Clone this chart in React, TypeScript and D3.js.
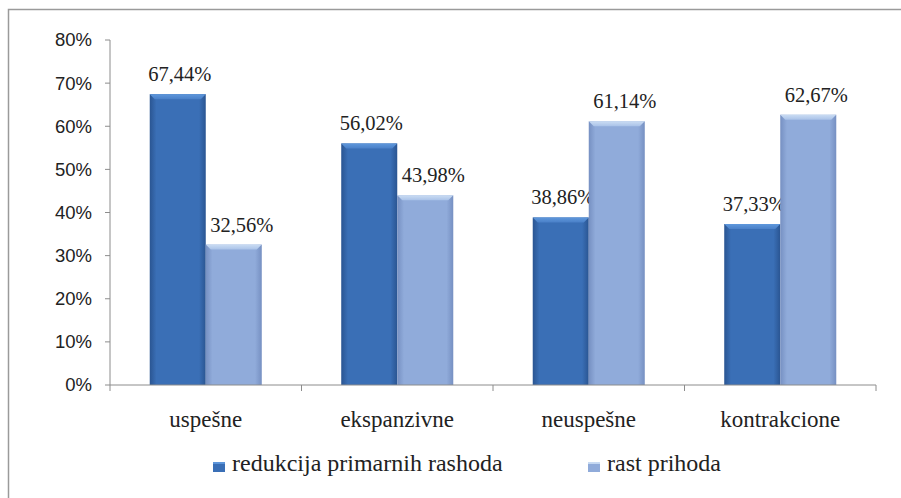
import React from 'react';
import * as d3 from 'd3';

const categories = ['uspešne', 'ekspanzivne', 'neuspešne', 'kontrakcione'];
const seriesNames = ['redukcija primarnih rashoda', 'rast prihoda'];
const reduction = [67.44, 56.02, 38.86, 37.33];
const revenue = [32.56, 43.98, 61.14, 62.67];
const yTicks = [0, 10, 20, 30, 40, 50, 60, 70, 80];

const W = 901;
const H = 498;
const left = 110;
const right = 876;
const top = 40;
const bottom = 385;

const serif = "'Liberation Serif'";
const sans = "'Liberation Sans'";

const seriesColors = [
  { edge: '#2a5592', mid: '#3a6fb6', cap: '#5f98dc', capEdge: '#4a80c8' },
  { edge: '#7690c2', mid: '#90abda', cap: '#cadcf3', capEdge: '#a9c2e8' },
];
// labels sit a little right of the bar centre in the original
const labelShift = [2, 8];

const fmt = (v: number) => v.toFixed(2).replace('.', ',') + '%';

const App = () => {
  const x0 = d3.scaleBand().domain(categories).range([left, right]).padding(0);
  const groupW = x0.bandwidth() * 0.585;
  const x1 = d3
    .scaleBand()
    .domain(seriesNames)
    .range([(x0.bandwidth() - groupW) / 2, (x0.bandwidth() + groupW) / 2])
    .padding(0);
  const y = d3.scaleLinear().domain([0, 80]).range([bottom, top]);
  const values = [reduction, revenue];

  const bars = categories.flatMap((c, ci) =>
    seriesNames.map((s, si) => ({ c, s, si, v: values[si][ci] }))
  );

  const cap = 5;

  return (
    <svg
      width={W}
      height={H}
      style={{ position: 'absolute', left: 0, top: 0, background: '#fff' }}
    >
      <defs>
        {seriesColors.map((col, i) => (
          <linearGradient key={i} id={`bar${i}`} x1="0" x2="1" y1="0" y2="0">
            <stop offset="0" stopColor={col.edge} />
            <stop offset="0.12" stopColor={col.mid} />
            <stop offset="0.88" stopColor={col.mid} />
            <stop offset="1" stopColor={col.edge} />
          </linearGradient>
        ))}
        {seriesColors.map((col, i) => (
          <linearGradient key={i} id={`cap${i}`} x1="0" x2="0" y1="0" y2="1">
            <stop offset="0" stopColor={col.cap} />
            <stop offset="1" stopColor={col.capEdge} />
          </linearGradient>
        ))}
      </defs>

      {/* frame */}
      <path d={`M8.5,${H} V9.5 H${W}`} fill="none" stroke="#9a9a9a" strokeWidth={1.5} />

      {/* y axis */}
      <line x1={left} x2={left} y1={top} y2={bottom} stroke="#8c8c8c" />
      {yTicks.map((t) => (
        <g key={t}>
          <line x1={left - 5} x2={left} y1={y(t)} y2={y(t)} stroke="#8c8c8c" />
          <text
            x={92}
            y={y(t)}
            dy="0.35em"
            textAnchor="end"
            style={{ fontFamily: sans, fontSize: 18.5 }}
            fill="#222"
          >
            {t}%
          </text>
        </g>
      ))}

      {/* bars */}
      {bars.map((b) => {
        const bx = (x0(b.c) as number) + (x1(b.s) as number);
        const bw = x1.bandwidth();
        const by = y(b.v);
        const bh = bottom - by;
        return (
          <g key={b.c + b.s}>
            <rect x={bx} y={by} width={bw} height={bh} fill={`url(#bar${b.si})`} />
            <path
              d={`M${bx},${by} H${bx + bw} L${bx + bw - cap},${by + cap} H${bx + cap} Z`}
              fill={`url(#cap${b.si})`}
            />
            <text
              x={bx + bw / 2 + labelShift[b.si]}
              y={by - 13}
              textAnchor="middle"
              style={{ fontFamily: serif, fontSize: 20.5 }}
              fill="#222"
            >
              {fmt(b.v)}
            </text>
          </g>
        );
      })}

      {/* x axis */}
      <line x1={left} x2={right} y1={bottom} y2={bottom} stroke="#8c8c8c" />
      {[...categories.map((c) => x0(c) as number), right].map((xv, i) => (
        <line key={i} x1={xv} x2={xv} y1={bottom} y2={bottom + 6} stroke="#8c8c8c" />
      ))}
      {categories.map((c) => (
        <text
          key={c}
          x={(x0(c) as number) + x0.bandwidth() / 2}
          y={427}
          textAnchor="middle"
          style={{ fontFamily: serif, fontSize: 23 }}
          fill="#222"
        >
          {c}
        </text>
      ))}

      {/* legend */}
      {seriesNames.map((s, i) => {
        const lx = [213, 588][i];
        return (
          <g key={s}>
            <rect x={lx} y={462} width={12} height={10} fill={`url(#cap${i})`} />
            <rect x={lx} y={464} width={12} height={8} fill={seriesColors[i].mid} />
            <text x={lx + 19} y={471} style={{ fontFamily: serif, fontSize: 24 }} fill="#222">
              {s}
            </text>
          </g>
        );
      })}
    </svg>
  );
};

export default App;
